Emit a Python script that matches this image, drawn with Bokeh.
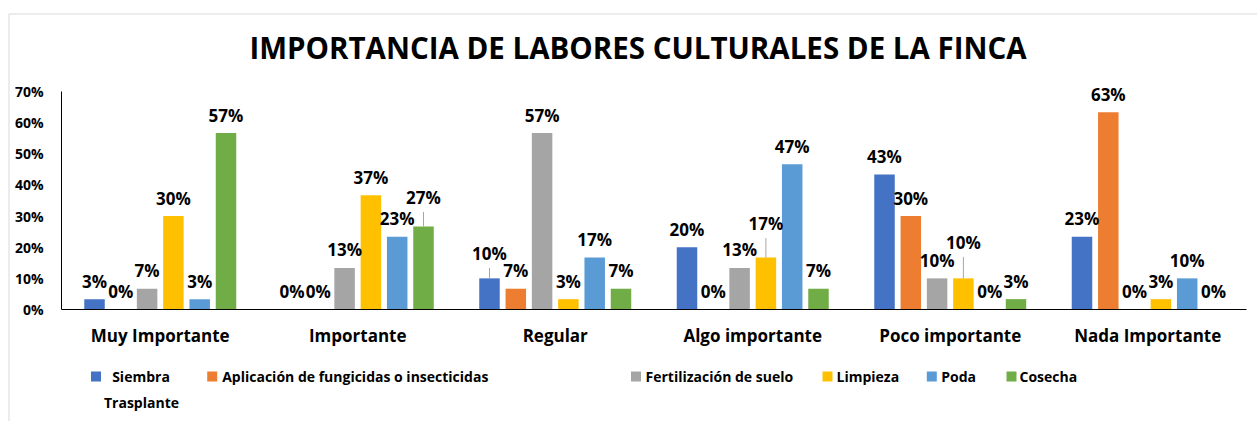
from bokeh.plotting import figure
from bokeh.models import Range1d, FixedTicker, PrintfTickFormatter
from bokeh.core.properties import value
from bokeh.embed import file_html
from bokeh.resources import INLINE

# ---------------- data ----------------
categories = ["Muy Importante", "Importante", "Regular", "Algo importante",
              "Poco importante", "Nada Importante"]
series_names = ["Siembra Trasplante", "Aplicación de fungicidas o insecticidas",
                "Fertilización de suelo", "Limpieza", "Poda", "Cosecha"]
siembra = [3.33, 0.0, 10.0, 20.0, 43.33, 23.33]
aplicacion = [0.0, 0.0, 6.67, 0.0, 30.0, 63.33]
fertilizacion = [6.67, 13.33, 56.67, 13.33, 10.0, 0.0]
limpieza = [30.0, 36.67, 3.33, 16.67, 10.0, 3.33]
poda = [3.33, 23.33, 16.67, 46.67, 0.0, 10.0]
cosecha = [56.67, 26.67, 6.67, 6.67, 3.33, 0.0]
y_ticks = [0, 10, 20, 30, 40, 50, 60, 70]
title_text = "IMPORTANCIA DE LABORES CULTURALES DE LA FINCA"

series_values = [siembra, aplicacion, fertilizacion, limpieza, poda, cosecha]
colors = ["#4472C4", "#ED7D31", "#A5A5A5", "#FFC000", "#5B9BD5", "#70AD47"]

# ---------------- layout (pixels on page) ----------------
W, H = 1257, 421
PAGE = 0
FL = 61.0          # x of plot-area left edge
CATW = 197.5       # pixels per category
Y0 = 309.0         # y of the 0% line
YPX = 218.0 / 70   # pixels per percent
PITCH = 26.3 / CATW
BARW = 20.5 / CATW
FONT = value("Open Sans")


def px2x(px):
    return (px - FL) / CATW


def px2y(py):
    return (Y0 - py) / YPX


p = figure(width=W, height=H, output_backend="svg", toolbar_location=None,
           x_range=Range1d(px2x(PAGE), px2x(PAGE + W)),
           y_range=Range1d(px2y(PAGE + H), px2y(PAGE)),
           min_border=0)
p.outline_line_color = None
p.background_fill_color = "white"
p.border_fill_color = "white"
p.grid.visible = False

# chart border (light gray)
p.segment(x0=[px2x(8.5), px2x(8.5)], y0=[px2y(13.5), px2y(13.5)],
          x1=[px2x(PAGE + W), px2x(8.5)], y1=[px2y(13.5), px2y(PAGE + H)],
          line_color="#D9D9D9", line_width=1)

# ---------------- bars ----------------
bx, btop, bcol = [], [], []
for s, vals in enumerate(series_values):
    for c, v in enumerate(vals):
        bx.append(c + 0.5 + (s - 2.5) * PITCH)
        btop.append(v)
        bcol.append(colors[s])
p.vbar(x=bx, top=btop, bottom=0, width=BARW, fill_color=bcol, line_color=None)

# ---------------- data labels ----------------
label_lift = {(1, 5): 11, (2, 0): 7, (3, 3): 16, (4, 3): 18}
lx, ly, lt = [], [], []
sx0, sy0, sx1, sy1 = [], [], [], []
for s, vals in enumerate(series_values):
    for c, v in enumerate(vals):
        x = c + 0.5 + (s - 2.5) * PITCH
        extra = label_lift.get((c, s), 0)
        lx.append(x)
        ly.append(v + (18 + extra) / YPX)
        lt.append(f"{round(v)}%")
        if extra:
            sx0.append(x)
            sy0.append(v)
            sx1.append(x)
            sy1.append(v + (18 + extra - 14.5) / YPX)
p.segment(x0=sx0, y0=sy0, x1=sx1, y1=sy1, line_color="#A6A6A6", line_width=1)
p.text(x=lx, y=ly, text=lt, text_align="center", text_baseline="middle",
       text_font=FONT, text_font_style="bold", text_font_size="17px",
       text_color="#000000")

# ---------------- axes ----------------
p.xaxis.fixed_location = 0
p.xaxis.bounds = (0, len(categories))
p.xaxis.ticker = FixedTicker(ticks=[i + 0.5 for i in range(len(categories))])
p.xaxis.major_label_overrides = {i + 0.5: c for i, c in enumerate(categories)}
p.xaxis.major_tick_in = 0
p.xaxis.major_tick_out = 0
p.xaxis.minor_tick_line_color = None
p.xaxis.axis_line_color = "#000000"
p.xaxis.axis_line_width = 1.2
p.xaxis.major_label_standoff = 14
p.xaxis.major_label_text_font = "Open Sans"
p.xaxis.major_label_text_font_style = "bold"
p.xaxis.major_label_text_font_size = "17px"
p.xaxis.major_label_text_color = "#000000"

p.yaxis.fixed_location = 0
p.yaxis.bounds = (0, 70)
p.yaxis.ticker = FixedTicker(ticks=y_ticks)
p.yaxis.formatter = PrintfTickFormatter(format="%d%%")
p.yaxis.major_tick_in = 0
p.yaxis.major_tick_out = 0
p.yaxis.minor_tick_line_color = None
p.yaxis.axis_line_color = "#000000"
p.yaxis.axis_line_width = 1
p.yaxis.major_label_standoff = 18
p.yaxis.major_label_text_font = "Open Sans"
p.yaxis.major_label_text_font_style = "bold"
p.yaxis.major_label_text_font_size = "14px"
p.yaxis.major_label_text_color = "#000000"

# ---------------- title ----------------
p.text(x=[px2x(637.5)], y=[px2y(46.5)], text=[title_text], text_align="center",
       text_baseline="middle", text_font=FONT, text_font_style="bold",
       text_font_size="29.5px", text_color="#000000")

# ---------------- legend ----------------
sq_x = [95.5, 211.7, 635.5, 827.0, 931.3, 1011.0]
txt_x = [140.5, 221.7, 645.0, 836.0, 940.7, 1019.0]
row_y = 376.0
p.scatter(x=[px2x(v) for v in sq_x], y=[px2y(row_y)] * 6, marker="square", size=10,
          fill_color=colors, line_color=None)
first_words = series_names[0].split(" ")
leg_x = [px2x(v) for v in txt_x]
leg_y = [px2y(row_y)] * 6
leg_t = [first_words[0]] + series_names[1:]
leg_align = ["center"] + ["left"] * 5
p.text(x=leg_x, y=leg_y, text=leg_t, text_align=leg_align, text_baseline="middle",
       text_font=FONT, text_font_style="bold", text_font_size="14px",
       text_color="#000000")
p.text(x=[px2x(141)], y=[px2y(402)], text=[" ".join(first_words[1:])],
       text_align="center", text_baseline="middle", text_font=FONT,
       text_font_style="bold", text_font_size="14px", text_color="#000000")

open("out.html", "w").write(file_html(p, INLINE))
